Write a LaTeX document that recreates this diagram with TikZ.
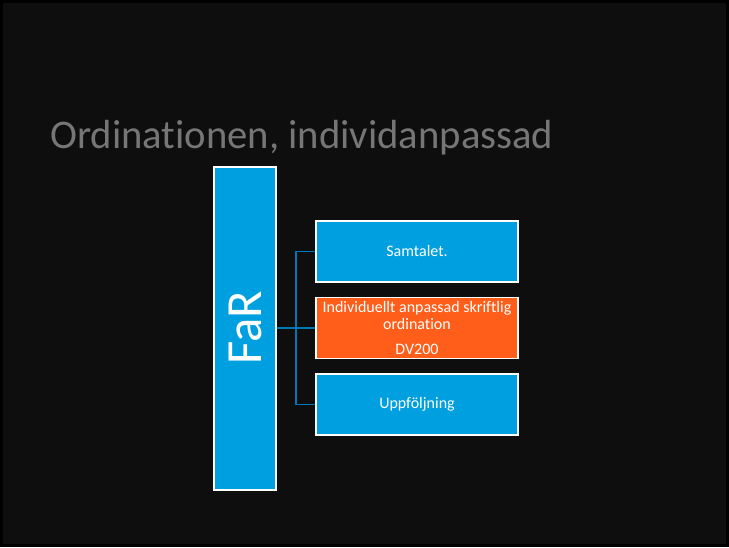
\documentclass[tikz,border=0pt]{standalone}
\usepackage{fontspec}
\setmainfont[Ligatures={NoCommon}]{Carlito}
\definecolor{slidebg}{RGB}{14,14,14}
\definecolor{farblue}{RGB}{0,160,224}
\definecolor{farorange}{RGB}{255,94,26}
\definecolor{linkblue}{RGB}{0,118,178}
\definecolor{titlegray}{RGB}{118,118,118}
\tikzset{
  itembox/.style={draw=white, line width=0.9pt, fill=farblue, text=white,
    minimum width=151.5pt, minimum height=45.75pt, inner sep=0pt,
    align=center, font=\fontsize{12}{13}\selectfont},
  link/.style={draw=linkblue, line width=1.1pt}
}
\begin{document}
\begin{tikzpicture}[x=0.75pt,y=0.75pt,yscale=-1,xscale=1]
%Shape: Slide background
\fill[black] (0,0) rectangle (729,547);
\fill[slidebg] (3,3) rectangle (726,544);
\useasboundingbox (0,0) rectangle (729,547);

% Text Node
\node[anchor=base west, inner sep=0pt, text=titlegray, font=\fontsize{30.5}{34}\selectfont] (title) at (50,148) {Ordinationen, individanpassad};

%Shape: FaR column
\node[draw=white, line width=0.9pt, fill=farblue, minimum width=46.5pt, minimum height=242.25pt, inner sep=0pt] (far) at (245,328.5) {};
\node[rotate=90, text=white, inner sep=0pt, font=\fontsize{38}{40}\selectfont] (farlabel) at (245,328) {FaR};

%Shape: items
\node[itembox] (samtalet) at (417,251.5) {Samtalet.};
\node[itembox, fill=farorange] (ordination) at (417,328) {Individuellt anpassad skriftlig\\ordination\\[6pt]DV200};
\node[itembox] (uppfoljning) at (417,404.5) {Uppföljning};

%Connectors
\coordinate (hub) at (296,328);
\draw[link] (far.east |- hub) -- (ordination.west);
\draw[link] (samtalet.west) -- (samtalet.west -| hub) -- (uppfoljning.west -| hub) -- (uppfoljning.west);

\end{tikzpicture}
\end{document}
